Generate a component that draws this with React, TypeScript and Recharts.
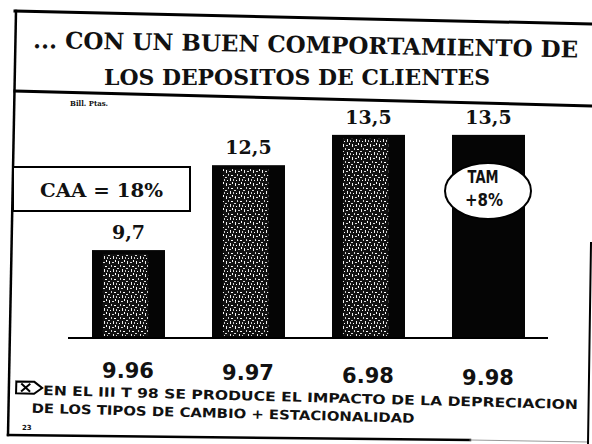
import { BarChart, Bar, XAxis, YAxis, LabelList } from 'recharts';

// Depósitos de clientes, Bill. Ptas.
const periods = ['9.96', '9.97', '6.98', '9.98'];
const deposits = [9.7, 12.5, 13.5, 13.5];

const title = ['... CON UN BUEN COMPORTAMIENTO DE', 'LOS DEPOSITOS DE CLIENTES'];
const unitLabel = 'Bill. Ptas.';
const caaLabel = 'CAA = 18%';
const tamLabel = ['TAM', '+8%'];
const footnote = [
  'EN  EL III T 98 SE PRODUCE EL IMPACTO DE LA DEPRECIACION',
  'DE LOS TIPOS DE CAMBIO + ESTACIONALIDAD',
];
const pageNumber = '23';

const data = periods.map((p, i) => ({ period: p, value: deposits[i] }));

const SERIF = '"DejaVu Serif", serif';
const SANS = '"DejaVu Sans", sans-serif';

// scanned bars: black with a speckled core, last one solid
const ScanBar = (props: any) => {
  const { x, y, width, height, index } = props;
  const solid = index === periods.length - 1;
  return (
    <g>
      <rect x={x} y={y} width={width} height={height} fill="#050505" />
      {!solid && (
        <rect
          x={x + width * 0.15}
          y={y + 4}
          width={width * 0.62}
          height={Math.max(0, height - 6)}
          fill="url(#speckle)"
        />
      )}
    </g>
  );
};

const PeriodTick = (props: any) => {
  const { x, y, payload } = props;
  // scan is slightly tilted, labels drift down to the right
  const tilt = (x - 128) * 0.02;
  return (
    <text
      x={x}
      y={y + 40 + tilt}
      textAnchor="middle"
      fontFamily={SANS}
      fontWeight="bold"
      fontSize={21}
      fill="#111"
    >
      {payload.value}
    </text>
  );
};

export default function App() {
  return (
    <div style={{ position: 'absolute', left: 0, top: 0, width: 592, height: 444, background: '#fff' }}>
      <div style={{ position: 'absolute', left: 0, top: 0 }}>
        <BarChart width={592} height={444} data={data} margin={{ top: 100, right: 44, left: 68, bottom: 76 }}>
          <defs>
            <pattern id="speckle" width="9" height="13" patternUnits="userSpaceOnUse">
              <rect width="9" height="13" fill="#111" />
              <rect x="1" y="1" width="1" height="3" fill="#eee" />
              <rect x="4" y="2" width="2" height="1" fill="#ddd" />
              <rect x="7" y="0" width="1" height="2" fill="#fff" />
              <rect x="3" y="5" width="1" height="2" fill="#ccc" />
              <rect x="6" y="6" width="2" height="1" fill="#fff" />
              <rect x="0" y="8" width="2" height="1" fill="#ddd" />
              <rect x="5" y="9" width="1" height="3" fill="#eee" />
              <rect x="2" y="11" width="1" height="1" fill="#fff" />
              <rect x="8" y="10" width="1" height="2" fill="#ccc" />
            </pattern>
          </defs>
          <XAxis
            dataKey="period"
            height={30}
            axisLine={{ stroke: '#000', strokeWidth: 2 }}
            tickLine={false}
            tickSize={0}
            tickMargin={0}
            tick={<PeriodTick />}
            interval={0}
          />
          <YAxis hide type="number" domain={[6.8, 14.65]} allowDataOverflow />
          <Bar dataKey="value" barSize={73} shape={<ScanBar />} isAnimationActive={false}>
            <LabelList
              dataKey="value"
              position="top"
              offset={11}
              formatter={(v: any) => String(v).replace('.', ',')}
              style={{ fontFamily: SERIF, fontWeight: 'bold', fontSize: 19, fill: '#111' }}
            />
          </Bar>
        </BarChart>
      </div>

      <svg width={592} height={444} style={{ position: 'absolute', left: 0, top: 0, pointerEvents: 'none' }}>
        {/* frame */}
        <g stroke="#000" strokeLinecap="square">
          <line x1={15} y1={11} x2={592} y2={24} strokeWidth={3} />
          <line x1={15} y1={91} x2={592} y2={106} strokeWidth={3} />
          <line x1={16} y1={11} x2={8} y2={435} strokeWidth={2.5} />
          <line x1={8} y1={435} x2={470} y2={440} strokeWidth={2.5} />
          <line x1={470} y1={440} x2={588} y2={442} strokeWidth={1} stroke="#999" />
          <line x1={591} y1={243} x2={588} y2={444} strokeWidth={2} />
        </g>

        {/* title */}
        <g fontFamily={SERIF} fontWeight="bold" fill="#111">
          <text x={33} y={48} fontSize={23} textLength={545} lengthAdjust="spacingAndGlyphs" transform="rotate(1 33 48)">
            {title[0]}
          </text>
          <text x={104} y={85} fontSize={23} textLength={386} lengthAdjust="spacingAndGlyphs">
            {title[1]}
          </text>
          <text x={70} y={106} fontSize={8} textLength={38} lengthAdjust="spacingAndGlyphs">
            {unitLabel}
          </text>
        </g>

        {/* CAA box */}
        <rect x={13} y={167} width={177} height={44} fill="#fff" stroke="#000" strokeWidth={2} />
        <text x={40} y={197} fontFamily={SERIF} fontWeight="bold" fontSize={19} fill="#111" textLength={123} lengthAdjust="spacingAndGlyphs">
          {caaLabel}
        </text>

        {/* TAM bubble */}
        <ellipse cx={488} cy={191} rx={43} ry={28} fill="#fff" stroke="#000" strokeWidth={2} />
        <g fontFamily={SANS} fontWeight="bold" fontSize={17} fill="#111" textAnchor="middle">
          <text x={483} y={183} textLength={31} lengthAdjust="spacingAndGlyphs">{tamLabel[0]}</text>
          <text x={484} y={206} textLength={38} lengthAdjust="spacingAndGlyphs">{tamLabel[1]}</text>
        </g>

        {/* footnote */}
        <g transform="rotate(1.5 40 395)" fontFamily={SANS} fontWeight="bold" fontSize={13} fill="#111">
          <polygon points="16,382 34,382 42,388 34,394 16,394" fill="#fff" stroke="#000" strokeWidth={2} />
          <line x1={21} y1={384} x2={30} y2={392} stroke="#000" strokeWidth={2} />
          <line x1={30} y1={384} x2={21} y2={392} stroke="#000" strokeWidth={2} />
          <text x={43} y={395} textLength={535} lengthAdjust="spacingAndGlyphs">{footnote[0]}</text>
          <text x={32} y={413} textLength={383} lengthAdjust="spacingAndGlyphs">{footnote[1]}</text>
        </g>
        <text x={22} y={430} fontFamily={SANS} fontWeight="bold" fontSize={7} fill="#111">
          {pageNumber}
        </text>
      </svg>
    </div>
  );
}
